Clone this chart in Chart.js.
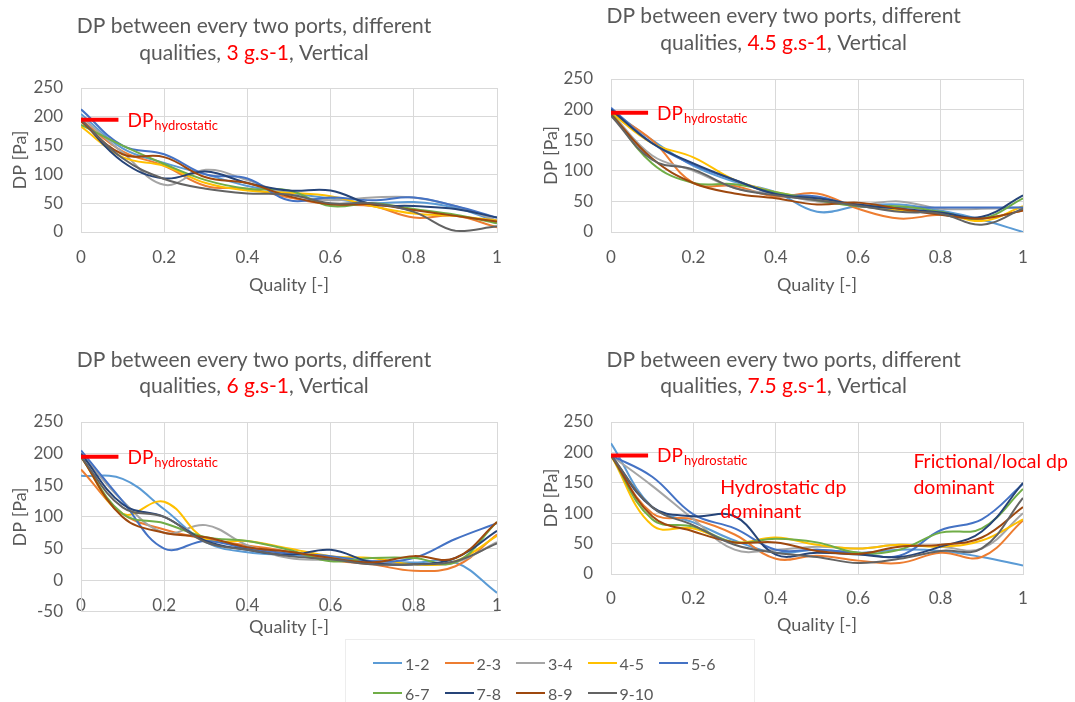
<!DOCTYPE html>
<html>
<head>
<meta charset="utf-8">
<script src="https://cdn.jsdelivr.net/npm/chart.js@4.4.0/dist/chart.umd.min.js"></script>
<style>
  html, body { margin: 0; padding: 0; background: #fff; }
  body { width: 1075px; height: 702px; position: relative; overflow: hidden; font-family: Lato, sans-serif; }
  canvas { position: absolute; }
  #legend {
    position: absolute; left: 345px; top: 639px; width: 410px; height: 70px;
    border: 1px solid #EDEDED; box-sizing: border-box;
    padding: 8px 0 0 27px;
    display: grid; grid-template-columns: repeat(5, 71.5px); grid-auto-rows: 30px;
  }
  .item { display: flex; align-items: center; font-size: 16px; color: #595959; }
  .item span.ln { display: inline-block; width: 29px; height: 2px; margin-right: 3px; }
</style>
</head>
<body>
<canvas id="c1" width="540" height="320" style="left:0;top:0"></canvas>
<canvas id="c2" width="535" height="320" style="left:540px;top:0"></canvas>
<canvas id="c3" width="540" height="310" style="left:0;top:330px"></canvas>
<canvas id="c4" width="535" height="310" style="left:540px;top:330px"></canvas>
<div id="legend"></div>
<script>
// quality points (x) shared by every series
const qualities = [0, 0.1, 0.2, 0.3, 0.4, 0.5, 0.6, 0.7, 0.8, 0.9, 1];
const seriesNames = ['1-2', '2-3', '3-4', '4-5', '5-6', '6-7', '7-8', '8-9', '9-10'];
const seriesColors = ['#5B9BD5', '#ED7D31', '#A5A5A5', '#FFC000', '#4472C4', '#70AD47', '#264478', '#9E480E', '#636363'];
const massFlux = ['3 g.s-1', '4.5 g.s-1', '6 g.s-1', '7.5 g.s-1'];
const xTickLabels = ['0', '0.2', '0.4', '0.6', '0.8', '1'];

// DP hydrostatic marker
const dpHydro = 195;
const hydroLineX = [0, 0.09];

// DP [Pa], one row per port pair (1-2 ... 9-10)
const dp3 = [
  [205, 145, 120, 100, 80, 68, 58, 50, 52, 42, 18],
  [195, 140, 115, 80, 75, 60, 48, 45, 25, 28, 8],
  [200, 138, 82, 108, 90, 65, 55, 60, 60, 45, 20],
  [183, 130, 115, 85, 72, 68, 62, 45, 32, 28, 20],
  [213, 150, 135, 100, 93, 55, 60, 55, 60, 45, 25],
  [186, 150, 118, 90, 75, 72, 45, 50, 40, 30, 15],
  [195, 122, 93, 105, 85, 72, 72, 48, 45, 40, 25],
  [192, 135, 130, 95, 85, 62, 48, 48, 38, 28, 18],
  [195, 128, 92, 75, 67, 65, 50, 50, 35, 2, 10]
];
const dp45 = [
  [200, 150, 108, 82, 65, 33, 42, 45, 35, 20, 0],
  [195, 150, 80, 75, 58, 63, 38, 22, 28, 22, 35],
  [195, 125, 100, 72, 62, 50, 45, 50, 38, 38, 40],
  [195, 145, 122, 85, 65, 55, 43, 35, 32, 18, 42],
  [203, 145, 110, 85, 62, 58, 42, 40, 40, 40, 40],
  [195, 112, 80, 78, 65, 52, 42, 42, 33, 22, 55],
  [200, 145, 112, 85, 62, 55, 45, 38, 32, 25, 60],
  [192, 120, 80, 63, 55, 45, 48, 38, 28, 22, 35],
  [190, 118, 102, 72, 60, 52, 43, 33, 30, 12, 38]
];
const dp6 = [
  [165, 160, 112, 60, 44, 40, 35, 30, 28, 28, -20],
  [175, 105, 80, 65, 55, 45, 32, 25, 15, 22, 72],
  [200, 125, 75, 87, 55, 35, 32, 28, 25, 28, 60],
  [195, 105, 124, 65, 62, 50, 38, 35, 25, 30, 70],
  [205, 125, 50, 62, 50, 42, 38, 30, 35, 65, 90],
  [195, 105, 90, 68, 62, 48, 30, 35, 35, 28, 92],
  [200, 120, 100, 62, 48, 40, 48, 28, 25, 35, 78],
  [195, 100, 75, 68, 52, 45, 35, 28, 38, 35, 92],
  [195, 115, 100, 60, 48, 38, 33, 25, 25, 30, 58]
];
const dp75 = [
  [215, 110, 85, 55, 35, 40, 35, 40, 38, 28, 14],
  [195, 100, 90, 65, 25, 30, 22, 18, 35, 28, 88],
  [195, 145, 90, 40, 40, 45, 42, 48, 45, 42, 100],
  [195, 80, 75, 52, 60, 48, 42, 48, 45, 55, 90],
  [195, 160, 98, 75, 40, 40, 35, 30, 72, 90, 148],
  [195, 90, 78, 52, 58, 52, 35, 40, 68, 75, 140],
  [195, 110, 95, 95, 32, 35, 32, 28, 45, 70, 150],
  [195, 95, 70, 52, 52, 38, 33, 45, 48, 60, 110],
  [195, 110, 80, 48, 35, 28, 18, 25, 38, 42, 125]
];

const GREY = '#595959';
const RED = '#FF0000';
const GRID = '#D9D9D9';
Chart.defaults.font.family = 'Lato';

// draws the two-colour title and the red notes
const panelText = {
  id: 'panelText',
  afterDraw(chart, args, opts) {
    const ctx = chart.ctx;
    const xs = chart.scales.x, ys = chart.scales.y;
    ctx.save();
    ctx.font = '21px Lato';
    ctx.textBaseline = 'middle';
    ctx.textAlign = 'left';
    opts.titleLines.forEach((segs, i) => {
      const total = segs.reduce((w, s) => w + ctx.measureText(s.text).width, 0);
      let x = opts.titleX - total / 2;
      segs.forEach(s => {
        ctx.fillStyle = s.red ? RED : GREY;
        ctx.fillText(s.text, x, opts.titleY[i]);
        x += ctx.measureText(s.text).width;
      });
    });

    // DP hydrostatic label
    ctx.fillStyle = RED;
    ctx.textBaseline = 'alphabetic';
    const lx = xs.getPixelForValue(hydroLineX[1]) + 9;
    const ly = ys.getPixelForValue(dpHydro) + 7;
    ctx.font = '19px Lato';
    ctx.fillText('DP', lx, ly);
    const w = ctx.measureText('DP').width;
    ctx.font = '13px Lato';
    ctx.fillText('hydrostatic', lx + w + 1, ly + 3);

    ctx.font = '19.5px Lato';
    ctx.textBaseline = 'middle';
    (opts.notes || []).forEach(n => {
      ctx.fillText(n.text, xs.getPixelForValue(n.x), ys.getPixelForValue(n.y));
    });
    ctx.restore();
  }
};

function makePanel(id, rows, cfg) {
  const datasets = rows.map((vals, i) => ({
    label: seriesNames[i],
    data: qualities.map((q, j) => ({ x: q, y: vals[j] })),
    borderColor: seriesColors[i],
    backgroundColor: seriesColors[i],
    borderWidth: 2,
    pointRadius: 0,
    tension: 0.4,
    order: rows.length - i
  }));
  datasets.push({
    label: 'DP hydrostatic',
    data: hydroLineX.map(q => ({ x: q, y: dpHydro })),
    borderColor: RED,
    borderWidth: 4,
    pointRadius: 0,
    order: 0
  });

  new Chart(document.getElementById(id), {
    type: 'line',
    data: { datasets },
    plugins: [panelText],
    options: {
      responsive: false,
      animation: false,
      devicePixelRatio: 1,
      layout: { padding: { left: 0, top: cfg.top, right: cfg.right, bottom: cfg.bottom } },
      plugins: {
        legend: { display: false },
        tooltip: { enabled: false },
        panelText: {
          titleLines: [
            [{ text: 'DP between every two ports, different' }],
            [{ text: 'qualities, ' }, { text: cfg.flux, red: true }, { text: ', Vertical' }]
          ],
          titleX: cfg.titleX,
          titleY: cfg.titleY,
          notes: cfg.notes
        }
      },
      scales: {
        x: {
          type: 'linear', min: 0, max: 1,
          position: cfg.xpos || 'bottom',
          afterFit: s => { s.height = cfg.xh; },
          ticks: {
            stepSize: 0.2, padding: cfg.xpad, color: GREY, font: { size: 17 },
            maxRotation: 0, autoSkip: false,
            callback: (v, idx) => xTickLabels[idx]
          },
          grid: { color: GRID, drawTicks: false },
          border: { color: GRID },
          title: { display: true, text: 'Quality [-]', color: GREY, font: { size: 18 }, padding: { top: 0, bottom: cfg.xtp } }
        },
        y: {
          min: cfg.ymin, max: 250,
          afterFit: s => { s.width = cfg.yw; },
          ticks: { stepSize: 50, padding: 18, color: GREY, font: { size: 17 } },
          grid: { color: GRID, drawTicks: false },
          border: { color: GRID },
          title: { display: true, text: 'DP [Pa]', color: GREY, font: { size: 18 }, padding: { top: cfg.ytp, bottom: 0 } }
        }
      }
    }
  });
}

function buildLegend() {
  const box = document.getElementById('legend');
  seriesNames.forEach((name, i) => {
    const it = document.createElement('div');
    it.className = 'item';
    const ln = document.createElement('span');
    ln.className = 'ln';
    ln.style.background = seriesColors[i];
    it.appendChild(ln);
    it.appendChild(document.createTextNode(name));
    box.appendChild(it);
  });
}

function init() {
  // axis title line height = 18 * 1.2 = 21.6 -> half 10.8
  makePanel('c1', dp3, { flux: massFlux[0], top: 88, right: 43, bottom: 18, xh: 70, yw: 81, ymin: 0,
    xpad: 15.5, xtp: 6.2, ytp: 9.2, titleX: 254, titleY: [26.7, 53.3] });
  makePanel('c2', dp45, { flux: massFlux[1], top: 79, right: 52, bottom: 18, xh: 70, yw: 71, ymin: 0,
    xpad: 15.5, xtp: 6.2, ytp: 0, titleX: 243.6, titleY: [16.7, 43.3] });
  makePanel('c3', dp6, { flux: massFlux[2], top: 92, right: 43, bottom: 0, xh: 30, yw: 81, ymin: -50,
    xpos: { y: 0 }, xpad: 15, xtp: -28, ytp: 9.2, titleX: 254, titleY: [30, 56.7] });
  makePanel('c4', dp75, { flux: massFlux[3], top: 92, right: 52, bottom: 0, xh: 66, yw: 71, ymin: 0,
    xpad: 14, xtp: 4.2, ytp: 0, titleX: 243.6, titleY: [30, 56.7],
    notes: [
      { text: 'Hydrostatic dp', x: 0.265, y: 142 },
      { text: 'dominant', x: 0.265, y: 102 },
      { text: 'Frictional/local dp', x: 0.734, y: 185 },
      { text: 'dominant', x: 0.734, y: 142 }
    ] });
  buildLegend();
}

document.fonts.load('16px Lato').then(init, init);
</script>
</body>
</html>
